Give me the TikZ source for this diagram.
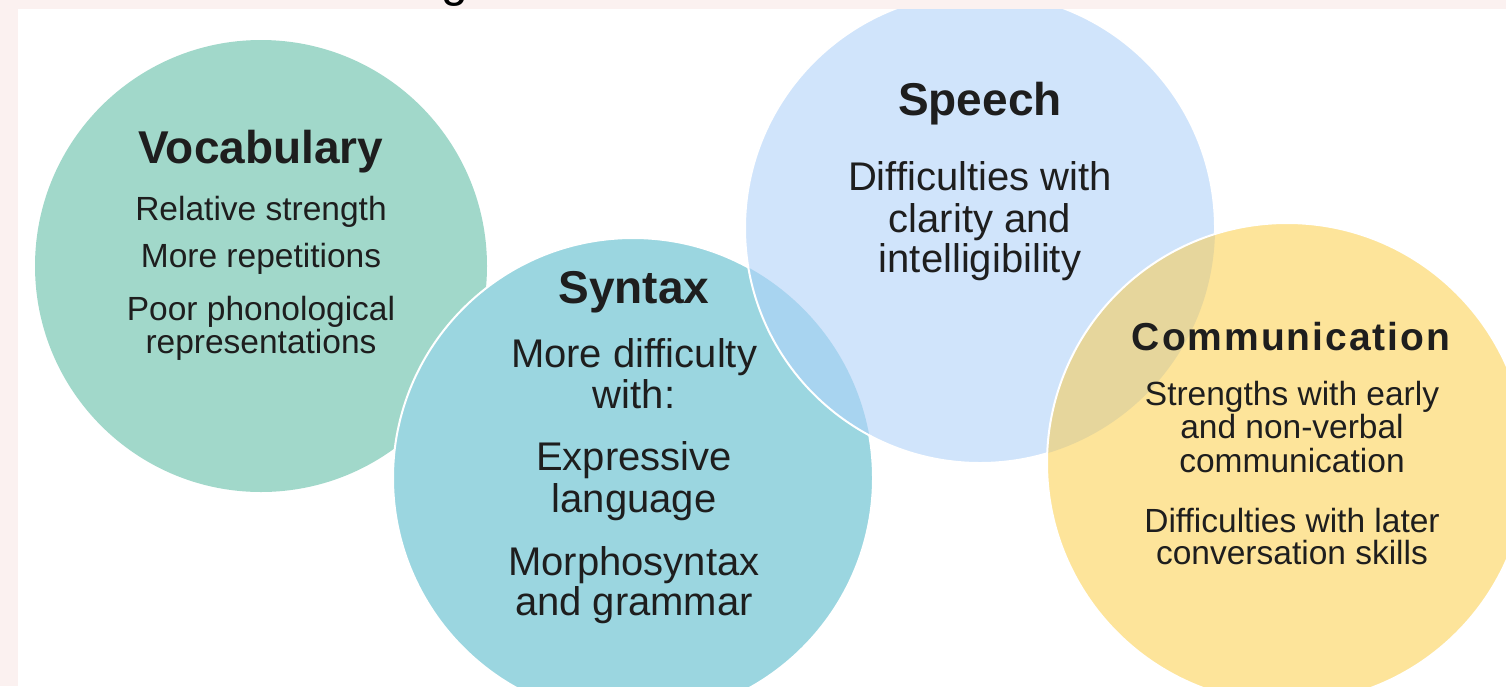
\documentclass[tikz,border=0pt]{standalone}
\usepackage{fontspec}
\setmainfont{Liberation Sans}
\definecolor{pinkbg}{HTML}{FBF1F0}
\definecolor{vocab}{HTML}{A1D8CA}
\definecolor{syntaxc}{HTML}{9BD6E0}
\definecolor{speechc}{HTML}{D0E4FB}
\definecolor{synsp}{HTML}{A8D4F0}
\definecolor{commc}{HTML}{FDE49A}
\definecolor{commsp}{HTML}{E6D69C}
\definecolor{ink}{HTML}{1E1E1E}
\begin{document}
\begin{tikzpicture}[x=1pt,y=-1pt,
  titletext/.style={font=\fontsize{46}{50}\selectfont\bfseries, text=ink, anchor=base, inner sep=0pt},
  bodytext/.style={font=\fontsize{40}{44}\selectfont, text=ink, anchor=base, inner sep=0pt},
  smalltext/.style={font=\fontsize{33.5}{36}\selectfont, text=ink, anchor=base, inner sep=0pt},
  ring/.style={draw=white, line width=2pt}]
\useasboundingbox (0,0) rectangle (1506,686);
\fill[pinkbg] (0,0) rectangle (1506,686);
\begin{scope}
  \clip (440,0) rectangle (475,9);
  \node[font=\fontsize{48}{50}\selectfont, anchor=base, inner sep=0pt, text=black] (headg) at (455,-4) {g};
\end{scope}
\fill[white] (18,9) rectangle (1506,686);
% circle centres
\coordinate (cv) at (261,266);
\coordinate (cs) at (633,478);
\coordinate (cp) at (980,228);
\coordinate (cc) at (1287,463);
\begin{scope}
  \clip (18,9) rectangle (1506,686);
  \fill[vocab] (cv) circle (226);
  \fill[syntaxc] (cs) circle (240);
  \draw[ring] (cs) circle (240);
  \fill[speechc] (cp) circle (235);
  \begin{scope}
    \clip (cs) circle (240);
    \fill[synsp] (cp) circle (235);
  \end{scope}
  \draw[ring] (cp) circle (235);
  \fill[commc] (cc) circle (240);
  \begin{scope}
    \clip (cc) circle (240);
    \fill[commsp] (cp) circle (235);
  \end{scope}
  \draw[ring] (cc) circle (240);
\end{scope}
% Vocabulary
\node[titletext] (vt) at (261,163) {Vocabulary};
\node[smalltext] (v1) at (261,220) {Relative strength};
\node[smalltext] (v2) at (261,267) {More repetitions};
\node[smalltext] (v3) at (261,320) {Poor phonological};
\node[smalltext] (v4) at (261,353) {representations};
% Speech
\node[titletext] (pt) at (980,115) {Speech};
\node[bodytext] (p1) at (980,190) {Difficulties with};
\node[bodytext] (p2) at (980,232) {clarity and};
\node[bodytext] (p3) at (980,272) {intelligibility};
% Syntax
\node[titletext] (st) at (634,303) {Syntax};
\node[bodytext] (s1) at (634,367) {More difficulty};
\node[bodytext] (s2) at (634,408) {with:};
\node[bodytext] (s3) at (634,470) {Expressive};
\node[bodytext] (s4) at (634,512) {language};
\node[bodytext] (s5) at (634,575) {Morphosyntax};
\node[bodytext] (s6) at (634,615) {and grammar};
% Communication
\node[font=\fontsize{39}{42}\selectfont\bfseries\addfontfeature{LetterSpace=5}, text=ink, anchor=base, inner sep=0pt] (ct) at (1291,350) {Communication};
\node[smalltext] (c1) at (1292,405) {Strengths with early};
\node[smalltext] (c2) at (1292,438) {and non-verbal};
\node[smalltext] (c3) at (1292,472) {communication};
\node[smalltext] (c4) at (1292,532) {Difficulties with later};
\node[smalltext] (c5) at (1292,564) {conversation skills};
\end{tikzpicture}
\end{document}
